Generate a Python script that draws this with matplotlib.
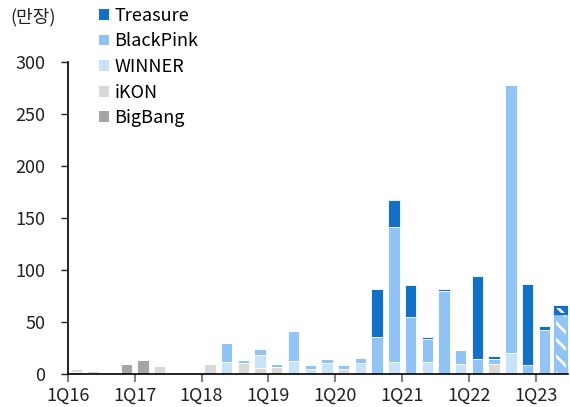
import numpy as np
import matplotlib
matplotlib.use('Agg')
import matplotlib.pyplot as plt
from matplotlib.patches import Patch

plt.rcParams['font.family'] = ['Noto Sans CJK KR', 'DejaVu Sans']
plt.rcParams['hatch.linewidth'] = 2.0

# quarters 1Q16 .. 2Q23 (last one is an estimate, drawn hatched)
quarters = ['1Q16', '2Q16', '3Q16', '4Q16', '1Q17', '2Q17', '3Q17', '4Q17',
            '1Q18', '2Q18', '3Q18', '4Q18', '1Q19', '2Q19', '3Q19', '4Q19',
            '1Q20', '2Q20', '3Q20', '4Q20', '1Q21', '2Q21', '3Q21', '4Q21',
            '1Q22', '2Q22', '3Q22', '4Q22', '1Q23', '2Q23']
tick_labels = ['1Q16', '1Q17', '1Q18', '1Q19', '1Q20', '1Q21', '1Q22', '1Q23']

# album sales (만장)
bigbang   = [1.5, 1.3, 0, 9.6, 13.7, 0, 0, 0, 0, 0, 0, 0, 0, 0, 0, 0,
             0, 0, 0, 0, 0, 0, 0, 0, 0, 0, 0, 0, 0, 0]
ikon      = [3.5, 1.3, 1.0, 0, 0, 7.4, 0, 0, 10.0, 0, 10.3, 5.5, 6.5, 0, 0, 0,
             4.8, 0, 0, 0, 0, 0, 0, 0, 0, 9.6, 0, 0, 0, 0]
winner    = [0, 0, 0, 0, 0, 0, 0, 0, 0, 12.0, 0, 12.5, 0, 12.5, 5.0, 11.0,
             0, 10.6, 0, 11.2, 0, 11.5, 0, 9.5, 0, 0, 20.0, 0, 0, 0]
blackpink = [0, 0, 0, 0, 0, 0, 0, 0, 0, 18.0, 3.2, 5.7, 3.0, 29.0, 3.3, 3.0,
             4.0, 4.8, 35.8, 130.0, 55.0, 22.0, 79.5, 13.5, 14.7, 4.5, 258.0, 9.0, 42.0, 57.3]
treasure  = [0, 0, 0, 0, 0, 0, 0, 0, 0, 0, 0, 0, 0, 0, 0, 0,
             0, 0, 46.0, 26.0, 30.5, 2.0, 2.0, 0, 79.5, 3.5, 0, 78.0, 4.5, 7.4]

names = ['BigBang', 'iKON', 'WINNER', 'BlackPink', 'Treasure']
series = [bigbang, ikon, winner, blackpink, treasure]
colors = ['#a6a6a6', '#d9d9d9', '#c8e2fa', '#91c4f4', '#1170c8']

fig = plt.figure(figsize=(5.7, 4.07), dpi=100)
ax = fig.add_axes([0.119, 0.081, 0.877, 0.767])

x = np.arange(len(quarters))
width = 0.68
est = len(quarters) - 1  # hatched estimate bar
bottom = np.zeros(len(quarters))
for name, vals, col in zip(names, series, colors):
    vals = np.array(vals)
    solid = np.arange(len(quarters)) != est
    ax.bar(x[solid], vals[solid], width, bottom=bottom[solid], color=col,
           edgecolor='white', linewidth=0.6)
    if vals[est] > 0:
        ax.bar(x[est], vals[est], width, bottom=bottom[est], color=col,
               edgecolor='white', linewidth=0, hatch='\\\\')
        ax.bar(x[est], vals[est], width, bottom=bottom[est], fill=False,
               edgecolor=col, linewidth=1.6)
    bottom += vals

ax.set_xlim(-0.5, 29.4)
ax.set_ylim(0, 300)
ax.set_yticks([0, 50, 100, 150, 200, 250, 300])
ax.set_xticks(np.arange(-0.5, 28, 4))
ax.set_xticklabels(tick_labels)

for s in ['top', 'right']:
    ax.spines[s].set_visible(False)
ax.spines['left'].set_linewidth(1.2)
ax.spines['bottom'].set_linewidth(1.2)
ax.tick_params(axis='y', direction='out', length=5, width=1, labelsize=13,
               colors='#222222', pad=11)
ax.tick_params(axis='x', direction='out', length=6, width=1.5, color='#808080',
               labelsize=13, labelcolor='#222222', pad=3)

fig.text(0.018, 0.958, '(만장)', fontsize=13, color='#222222', va='center')

handles = [Patch(facecolor=c, edgecolor='none') for c in colors[::-1]]
fig.legend(handles, names[::-1], loc='upper left', bbox_to_anchor=(0.155, 1.01),
           frameon=False, fontsize=13, handlelength=0.55, handleheight=0.55,
           handletextpad=0.3, labelspacing=0.42, borderaxespad=0.2)

fig.savefig('out.png', dpi=100)
